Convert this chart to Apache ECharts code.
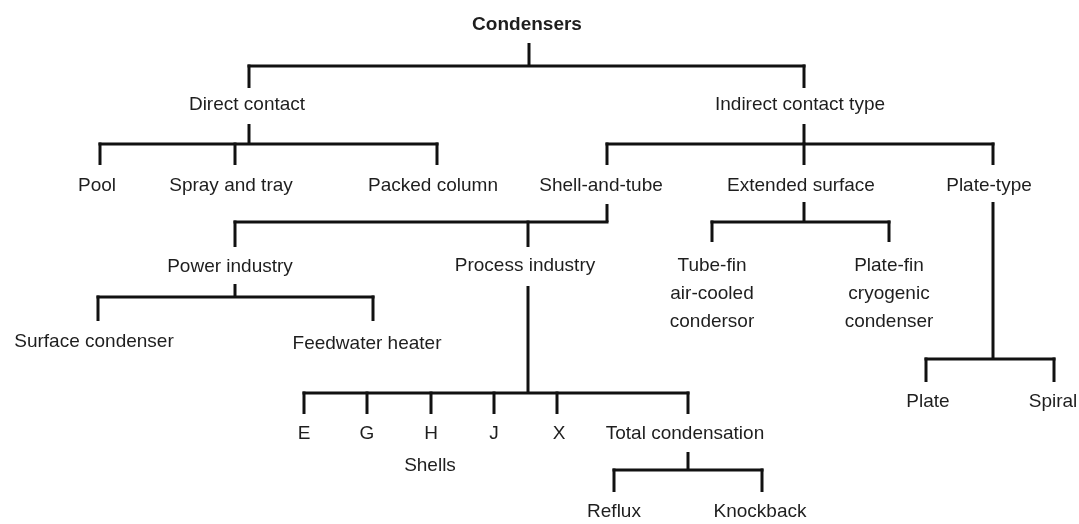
<!DOCTYPE html>
<html>
<head>
<meta charset="utf-8">
<script src="https://cdn.jsdelivr.net/npm/echarts@6/dist/echarts.min.js"></script>
<style>
html,body{margin:0;padding:0;background:#fff;}
#chart{width:1079px;height:524px;}
</style>
</head>
<body>
<div id="chart"></div>
<script>
// Node names (tree of condenser types)
const names = ['Condensers','Direct contact','Indirect contact type','Pool','Spray and tray','Packed column',
  'Shell-and-tube','Extended surface','Plate-type','Power industry','Process industry',
  'Tube-fin\nair-cooled\ncondersor','Plate-fin\ncryogenic\ncondenser','Plate','Spiral',
  'Surface condenser','Feedwater heater','E','G','H','J','X','Total condensation','Reflux','Knockback'];
// Parent index of each node (-1 = root)
const parentOf = [-1,0,0,1,1,1,2,2,2,6,6,7,7,8,8,9,9,10,10,10,10,10,10,22,22];
// Connector x of each node (layout units)
const linkX  = [529,249,804,100,235,437,607,804,993,235,528,712,889,926,1054,98,373,304,367,431,494,557,688,614,762];
// Label centre of each node (layout units)
const labelX = [527,247,800,97,231,433,601,801,989,230,525,712,889,928,1053,94,367,304,367,431,494,559,685,614,760];
const labelY = [25,105,105,186,186,186,186,186,186,267,266,294,294,402,402,342,344,434,434,434,434,434,434,512,512];
// Brackets: parent node, stem start, bar level, drop end
const bracketParent = [0,1,2,6,7,8,9,10,22];
const stemTop = [43,124,124,204,202,202,284,286,452];
const barY    = [66,144,144,222,222,359,297,393,470];
const dropEnd = [88,165,165,247,242,382,321,414,492];
// Extra note under the shell letters
const noteText = ['Shells'];
const noteX = [430];
const noteY = [466];

const chart = echarts.init(document.getElementById('chart'), null, {renderer:'canvas'});
const LW = 3;
const LINE = {stroke:'#111', lineWidth:LW, lineCap:'butt'};
const FONT = '19px "Liberation Sans", Arial, Helvetica, sans-serif';

const option = {
  animation:false,
  backgroundColor:'#fff',
  grid:{left:0,right:0,top:0,bottom:0},
  xAxis:{type:'value',min:0,max:1079,show:false},
  yAxis:{type:'value',min:0,max:524,inverse:true,show:false},
  series:[
    {
      type:'custom',
      data: bracketParent.map((p,i)=>[linkX[p], barY[i]]),
      renderItem:function(params, api){
        const i = params.dataIndex;
        const p = bracketParent[i];
        const kids = [];
        parentOf.forEach((q,k)=>{ if(q===p) kids.push(k); });
        const xs = kids.map(k=>linkX[k]);
        const all = xs.concat([linkX[p]]);
        const minX = Math.min.apply(null, all), maxX = Math.max.apply(null, all);
        const c = (x,y)=>api.coord([x,y]);
        const els = [];
        const s0 = c(linkX[p], stemTop[i]), s1 = c(linkX[p], barY[i]);
        els.push({type:'line', shape:{x1:s0[0],y1:s0[1],x2:s1[0],y2:s1[1]}, style:LINE});
        const b = c(minX, barY[i]), d = c(maxX, barY[i]);
        els.push({type:'line', shape:{x1:b[0]-LW/2,y1:b[1],x2:d[0]+LW/2,y2:d[1]}, style:LINE});
        xs.forEach(x=>{
          const t = c(x, barY[i]), u = c(x, dropEnd[i]);
          els.push({type:'line', shape:{x1:t[0],y1:t[1]-LW/2,x2:u[0],y2:u[1]}, style:LINE});
        });
        return {type:'group', children:els};
      }
    },
    {
      type:'custom',
      data: names.map((n,i)=>[labelX[i], labelY[i]]),
      renderItem:function(params, api){
        const i = params.dataIndex;
        const pt = api.coord([labelX[i], labelY[i]]);
        const bold = i===0;
        return {type:'text', x:pt[0], y:pt[1], style:{
          text:names[i], fill:'#1e1e1e',
          font: bold ? 'bold 19px "Liberation Sans", Arial, sans-serif' : FONT,
          align:'center', verticalAlign:'middle', lineHeight:28
        }};
      }
    },
    {
      type:'custom',
      data: noteText.map((n,i)=>[noteX[i], noteY[i]]),
      renderItem:function(params, api){
        const i = params.dataIndex;
        const pt = api.coord([noteX[i], noteY[i]]);
        return {type:'text', x:pt[0], y:pt[1], style:{
          text:noteText[i], fill:'#1e1e1e', font:FONT,
          align:'center', verticalAlign:'middle'
        }};
      }
    }
  ]
};
chart.setOption(option);
</script>
</body>
</html>
